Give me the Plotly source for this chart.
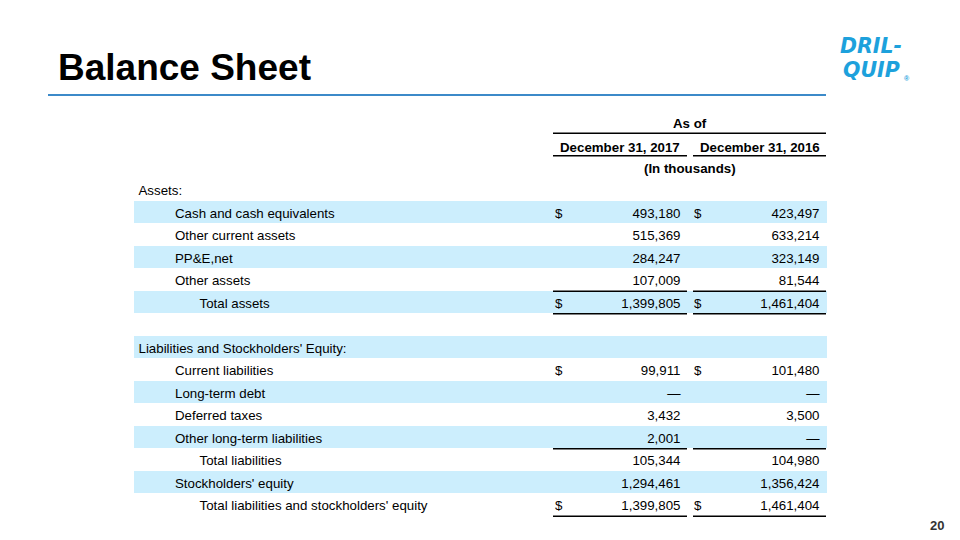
import plotly.graph_objects as go

# ---------------- data ----------------
labels = [
    "Assets:",
    "Cash and cash equivalents",
    "Other current assets",
    "PP&E,net",
    "Other assets",
    "Total assets",
    "",
    "Liabilities and Stockholders' Equity:",
    "Current liabilities",
    "Long-term debt",
    "Deferred taxes",
    "Other long-term liabilities",
    "Total liabilities",
    "Stockholders' equity",
    "Total liabilities and stockholders' equity",
]
indent_level = [0, 1, 1, 1, 1, 2, 0, 0, 1, 1, 1, 1, 2, 1, 2]
values_2017 = ["", "493,180", "515,369", "284,247", "107,009", "1,399,805", "", "",
               "99,911", "—", "3,432", "2,001", "105,344", "1,294,461", "1,399,805"]
values_2016 = ["", "423,497", "633,214", "323,149", "81,544", "1,461,404", "", "",
               "101,480", "—", "3,500", "—", "104,980", "1,356,424", "1,461,404"]
dollar_rows = [1, 5, 8, 14]
shaded_rows = [1, 3, 5, 7, 9, 11, 13]
rule_below_rows = [4, 5, 11, 14]
col_headers = ["December 31, 2017", "December 31, 2016"]
group_header = "As of"
unit_header = "(In thousands)"
title = "Balance Sheet"
logo_lines = ["DRIL-", "QUIP"]
page_number = "20"

# ---------------- layout constants ----------------
W, H = 960, 540
ROW0 = 189.2
PITCH = 22.5
TEXT_DY = 2.5
FONT = "Liberation Sans, Arial, sans-serif"
FS = 13.3
TXT = "#000000"
BAND = "#CCEEFD"
LABEL_X = [138.5, 175, 199.5]
COL_L = [553, 693]
COL_R = [687, 826]
DOLLAR_X = [555, 694]
VAL_R = [680.5, 819.5]
BAND_L, BAND_R = 134, 826.5

def row_y(i):
    return ROW0 + PITCH * i

def text_y(i):
    return row_y(i) + TEXT_DY

fig = go.Figure()

# shaded bands
fig.add_trace(go.Bar(
    orientation="h",
    y=[row_y(i) for i in shaded_rows],
    x=[BAND_R - BAND_L] * len(shaded_rows),
    base=[BAND_L] * len(shaded_rows),
    width=22,
    marker=dict(color=BAND, line=dict(width=0)),
    hoverinfo="skip", showlegend=False,
))

# labels
for lvl in range(3):
    idx = [i for i in range(len(labels)) if indent_level[i] == lvl and labels[i]]
    fig.add_trace(go.Scatter(
        x=[LABEL_X[lvl]] * len(idx), y=[text_y(i) for i in idx],
        text=[labels[i] for i in idx], mode="text", textposition="middle right",
        textfont=dict(family=FONT, size=FS, color=TXT),
        hoverinfo="skip", showlegend=False,
    ))

# values
for c, vals in enumerate([values_2017, values_2016]):
    idx = [i for i in range(len(vals)) if vals[i]]
    fig.add_trace(go.Scatter(
        x=[VAL_R[c]] * len(idx), y=[text_y(i) for i in idx],
        text=[vals[i] for i in idx], mode="text", textposition="middle left",
        textfont=dict(family=FONT, size=FS, color=TXT),
        hoverinfo="skip", showlegend=False,
    ))
    fig.add_trace(go.Scatter(
        x=[DOLLAR_X[c]] * len(dollar_rows), y=[text_y(i) for i in dollar_rows],
        text=["$"] * len(dollar_rows), mode="text", textposition="middle right",
        textfont=dict(family=FONT, size=FS, color=TXT),
        hoverinfo="skip", showlegend=False,
    ))

annotations = []
shapes = []

# headers
annotations.append(dict(x=(COL_L[0] + COL_R[1]) / 2, y=123.8, text="<b>" + group_header + "</b>",
                        showarrow=False, xanchor="center", yanchor="middle",
                        font=dict(family=FONT, size=FS, color=TXT)))
for c in range(2):
    annotations.append(dict(x=(COL_L[c] + COL_R[c]) / 2, y=147.2, text="<b>" + col_headers[c] + "</b>",
                            showarrow=False, xanchor="center", yanchor="middle",
                            font=dict(family=FONT, size=FS, color=TXT)))
annotations.append(dict(x=(COL_L[0] + COL_R[1]) / 2, y=168.8, text="<b>" + unit_header + "</b>",
                        showarrow=False, xanchor="center", yanchor="middle",
                        font=dict(family=FONT, size=FS, color=TXT)))

# header rules
shapes.append(dict(type="line", xref="x", yref="y", x0=COL_L[0], x1=COL_R[1], y0=133.3, y1=133.3,
                   line=dict(color="#000000", width=1.6)))
for c in range(2):
    shapes.append(dict(type="line", xref="x", yref="y", x0=COL_L[c], x1=COL_R[c], y0=155.8, y1=155.8,
                       line=dict(color="#000000", width=1.6)))
# table rules
for r in rule_below_rows:
    yy = row_y(r) + PITCH / 2 + 0.8
    for c in range(2):
        shapes.append(dict(type="line", xref="x", yref="y", x0=COL_L[c], x1=COL_R[c], y0=yy, y1=yy,
                           line=dict(color="#000000", width=1.6)))

# title & rule
annotations.append(dict(x=55.5, y=81, text="<b>" + title + "</b>", showarrow=False,
                        xanchor="left", yanchor="bottom", yshift=-9,
                        font=dict(family=FONT, size=37, color="#000000")))
shapes.append(dict(type="line", xref="x", yref="y", x0=48, x1=826, y0=95, y1=95,
                   line=dict(color="#3C8AC9", width=2)))

# logo
LOGO = "#1DA1DC"
LOGO_FONT = "DejaVu Sans, Liberation Sans, sans-serif"
annotations.append(dict(x=871, y=46, text="<b><i>%s</i></b>" % logo_lines[0], showarrow=False,
                        xanchor="center", yanchor="middle",
                        font=dict(family=LOGO_FONT, size=20.5, color=LOGO)))
annotations.append(dict(x=871, y=70, text="<b><i>%s</i></b>" % logo_lines[1], showarrow=False,
                        xanchor="center", yanchor="middle",
                        font=dict(family=LOGO_FONT, size=20.5, color=LOGO)))
annotations.append(dict(x=902, y=78, text="<b>®</b>", showarrow=False,
                        xanchor="left", yanchor="middle",
                        font=dict(family=FONT, size=7, color=LOGO)))

# page number
annotations.append(dict(x=946, y=525, text="<b>" + page_number + "</b>", showarrow=False,
                        xanchor="right", yanchor="middle",
                        font=dict(family=FONT, size=13, color="#333333")))

fig.update_layout(
    width=W, height=H,
    margin=dict(l=0, r=0, t=0, b=0),
    paper_bgcolor="white", plot_bgcolor="white",
    xaxis=dict(range=[0, W], visible=False, fixedrange=True),
    yaxis=dict(range=[H, 0], visible=False, fixedrange=True),
    annotations=annotations, shapes=shapes,
    bargap=0, showlegend=False,
)

fig.write_html("out.html", config={"displayModeBar": False},
               post_script="document.body.style.margin='0';")
